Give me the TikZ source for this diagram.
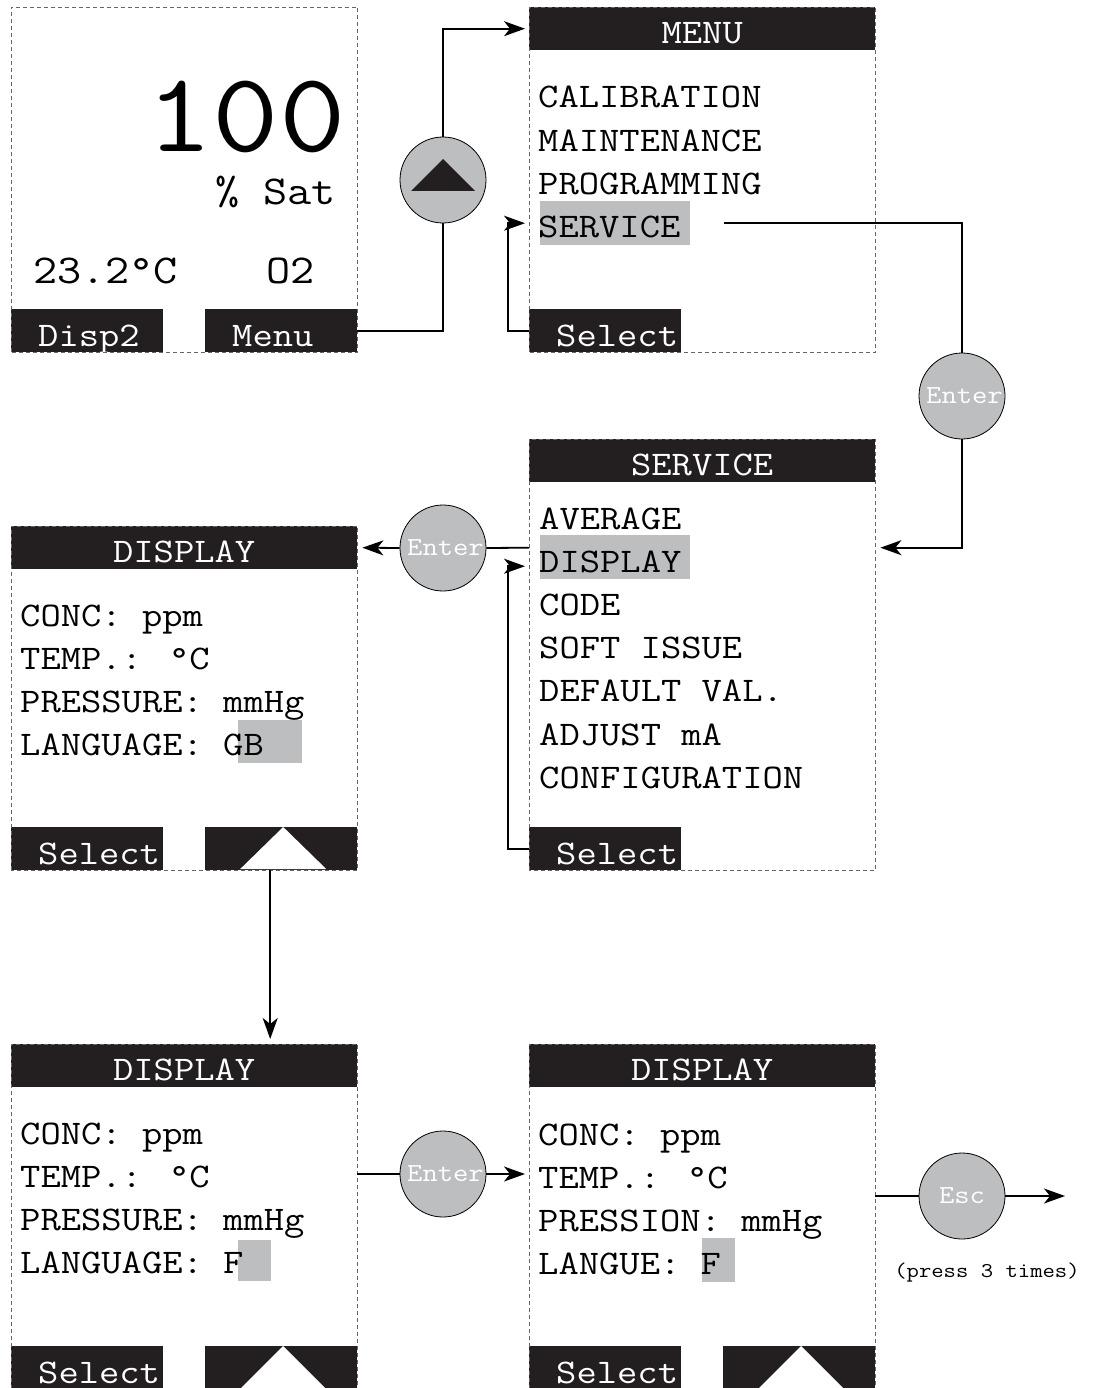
\documentclass[tikz,border=0pt]{standalone}
\usepackage{fontspec}
\setmainfont{Latin Modern Mono}[FakeStretch=1.143]
\usetikzlibrary{arrows.meta}
\definecolor{lcd}{HTML}{231F20}
\definecolor{hilite}{HTML}{BCBEC0}
\begin{document}
\begin{tikzpicture}[x=1pt,y=-1pt,
	panel/.style={anchor=north west,inner sep=0,minimum width=346pt},
	dashframe/.style={draw=black!60,dash pattern=on 4pt off 3pt,line width=0.6pt},
	screenhead/.style={anchor=north west,fill=lcd,text=white,inner sep=0,
		minimum width=346pt,minimum height=43pt,text height=36pt,text depth=7pt,
		font=\fontsize{34.5}{40}\selectfont},
	softkey/.style={anchor=south west,fill=lcd,inner sep=0,minimum width=152pt,minimum height=43pt},
	keytxt/.style={anchor=base west,text=white,inner sep=0,font=\fontsize{34.5}{40}\selectfont},
	entry/.style={anchor=base west,inner sep=0,font=\fontsize{34.5}{40}\selectfont},
	hl/.style={fill=hilite,inner sep=0,anchor=north west},
	btn/.style={circle,draw,fill=hilite,minimum size=86pt,inner sep=0,line width=0.8pt},
	btntxt/.style={text=white,inner sep=0,font=\fontsize{26}{30}\selectfont},
	wire/.style={line width=1.8pt},
	>={Stealth[length=21pt,width=15pt,inset=6pt]}]
\useasboundingbox (0,0) rectangle (1093,1388);

% measuring screen
\node[panel,minimum height=345pt] (home) at (11,7) {};
\node[softkey] (disp2) at (home.south west) {};
\node[softkey,anchor=south east] (menukey) at (home.south east) {};
\node[keytxt] at ([shift={(27,-6)}]disp2.south west) {Disp2};
\node[keytxt] at ([shift={(27,-6)}]menukey.south west) {Menu};
\node[anchor=base east,inner sep=0,font=\fontsize{113}{120}\selectfont] (val) at (346,152) {100};
\node[anchor=base east,inner sep=0,font=\fontsize{41}{48}\selectfont] (unit) at (336,205) {\% Sat};
\node[anchor=base west,inner sep=0,font=\fontsize{41}{48}\selectfont] (temp) at (33,283) {23.2°C};
\node[anchor=base west,inner sep=0,font=\fontsize{41}{48}\selectfont] (gas) at (266,283) {O2};

% menu
\node[panel,minimum height=345pt] (menu) at (529,7) {};
\node[screenhead] (mhead) at (menu.north west) {MENU};
\node[hl,minimum width=150pt,minimum height=44pt] (mhl) at (540,201) {};
\foreach \t [count=\i] in {CALIBRATION,MAINTENANCE,PROGRAMMING,SERVICE}
	\node[entry] (m\i) at (538,{108+43.2*(\i-1)}) {\t};
\node[softkey] (msel) at (menu.south west) {};
\node[keytxt] at ([shift={(27,-6)}]msel.south west) {Select};

% service
\node[panel,minimum height=431pt] (serv) at (529,439) {};
\node[screenhead] (shead) at (serv.north west) {SERVICE};
\node[hl,minimum width=150pt,minimum height=44pt] (shl) at (540,535) {};
\foreach \t [count=\i] in {AVERAGE,DISPLAY,CODE,SOFT ISSUE,DEFAULT VAL.,ADJUST mA,CONFIGURATION}
	\node[entry] (s\i) at (539,{529+43.2*(\i-1)}) {\t};
\node[softkey] (ssel) at (serv.south west) {};
\node[keytxt] at ([shift={(27,-6)}]ssel.south west) {Select};

% display (GB)
\node[panel,minimum height=344pt] (disp) at (11,526) {};
\node[screenhead] (dhead) at (disp.north west) {DISPLAY};
\node[hl,minimum width=64pt,minimum height=43pt] (dhl) at (238,720) {};
\foreach \t [count=\i] in {CONC: ppm,TEMP.: °C,PRESSURE: mmHg,LANGUAGE: GB}
	\node[entry] (d\i) at (20,{626+43.2*(\i-1)}) {\t};
\node[softkey] (dsel) at (disp.south west) {};
\node[softkey,anchor=south east] (dup) at (disp.south east) {};
\node[keytxt] at ([shift={(27,-6)}]dsel.south west) {Select};
\fill[white] ([xshift=2]dup.north) -- ++(43,42) -- ++(-86,0) -- cycle;

% display (F)
\node[panel,minimum height=345pt] (disf) at (11,1044) {};
\node[screenhead] (fhead) at (disf.north west) {DISPLAY};
\node[hl,minimum width=33pt,minimum height=41pt] (fhl) at (238,1240) {};
\foreach \t [count=\i] in {CONC: ppm,TEMP.: °C,PRESSURE: mmHg,LANGUAGE: F}
	\node[entry] (f\i) at (20,{1144+43.2*(\i-1)}) {\t};
\node[softkey] (fsel) at (disf.south west) {};
\node[softkey,anchor=south east] (fup) at (disf.south east) {};
\node[keytxt] at ([shift={(27,-6)}]fsel.south west) {Select};
\fill[white] ([xshift=2]fup.north) -- ++(43,43) -- ++(-86,0) -- cycle;

% affichage (F)
\node[panel,minimum height=345pt] (disfr) at (529,1044) {};
\node[screenhead] (rhead) at (disfr.north west) {DISPLAY};
\node[hl,minimum width=33pt,minimum height=44pt] (rhl) at (702,1238) {};
\foreach \t [count=\i] in {CONC: ppm,TEMP.: °C,PRESSION: mmHg,LANGUE: F}
	\node[entry] (r\i) at (538,{1145+43.2*(\i-1)}) {\t};
\node[softkey] (rsel) at (disfr.south west) {};
\node[softkey,anchor=south east] (rup) at (disfr.south east) {};
\node[keytxt] at ([shift={(27,-6)}]rsel.south west) {Select};
\fill[white] ([xshift=2]rup.north) -- ++(43,43) -- ++(-86,0) -- cycle;

\foreach \p in {home,menu,serv,disp,disf,disfr}
	\draw[dashframe] (\p.south west) rectangle (\p.north east);

% keys
\node[btn] (up) at (443,180) {};
\fill[lcd] ([shift={(-32,11)}]up.center) -- ++(64,0) -- ++(-32,-32) -- cycle;
\node[btn] (ent1) at (962,396) {};
\node[btn] (ent2) at (443,548) {};
\node[btn] (ent3) at (443,1174) {};
\node[btn,text=white,font=\fontsize{26}{30}\selectfont] (esc) at (962,1196) {Esc};
\coordinate (out) at (1065,1196);
\node[anchor=base,inner sep=0,font=\fontsize{21}{24}\selectfont] (note) at (987,1277) {(press 3 times)};

% connectors
\draw[wire] (menukey.east) -| (up.south);
\draw[wire,->] (up.north) |- ([xshift=-4]mhead.west);
\draw[wire,->] (msel.west) -- ++(-21,0) |- ([xshift=-15]mhl.west);
\draw[wire] ([xshift=34]mhl.east) -| (ent1.north);
\draw[wire,->] (ent1.south) |- ([xshift=5]serv.east |- dhead.east);
\draw[wire] (serv.west |- dhead.east) -- (ent2.east);
\draw[wire,->] (ent2.west) -- ([xshift=5]dhead.east);
\draw[wire,->] (ssel.west) -- ++(-21,0) |- ([shift={(-15,9)}]shl.west);
\draw[wire,->,shorten >=5pt] ([xshift=-11]dup.south) -- ([xshift=-11]dup.south |- fhead.north);
\draw[wire] (ent3.west -| disf.east) -- (ent3.west);
\draw[wire,->] (ent3.east) -- ([xshift=-4]ent3.east -| disfr.west);
\draw[wire] (esc.west -| disfr.east) -- (esc.west);
\draw[wire,->] (esc.east) -- (out);

\foreach \b in {ent1,ent2,ent3}
	\node[btntxt,anchor=base west] at ([shift={(-36,7)}]\b.center) {Enter};
\end{tikzpicture}
\end{document}
